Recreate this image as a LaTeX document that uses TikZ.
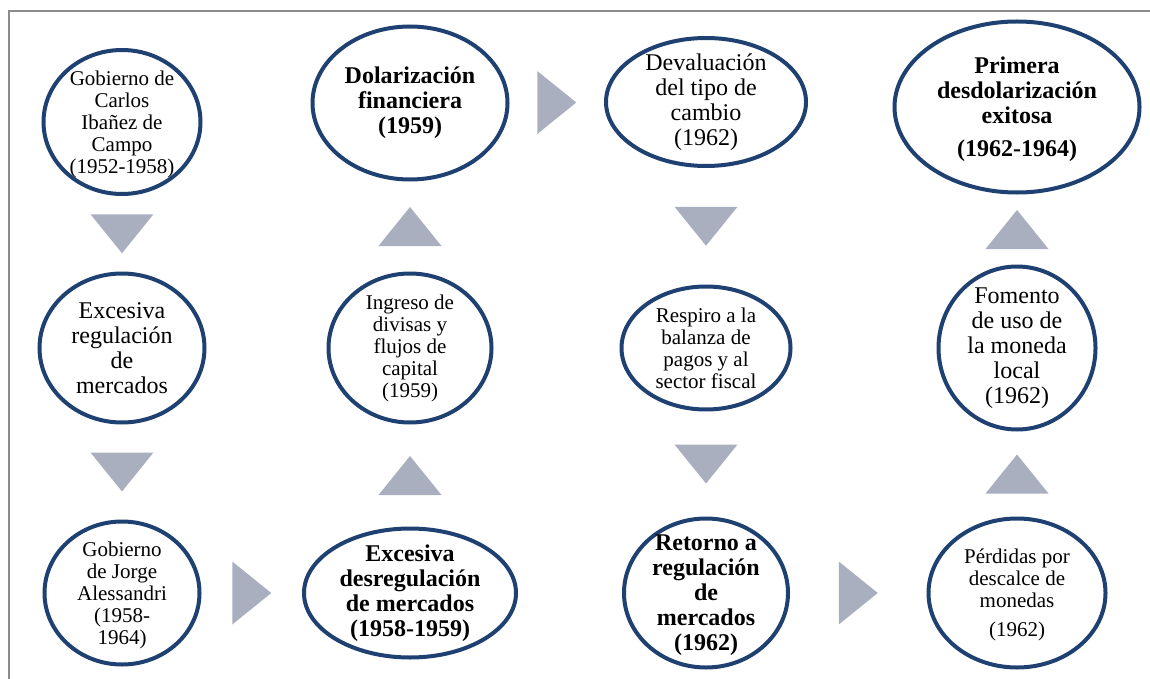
\documentclass[tikz,border=0pt]{standalone}
\usepackage{fontspec}
\setmainfont{Liberation Serif}
\usetikzlibrary{shapes.geometric,calc}
\definecolor{ovalblue}{RGB}{31,65,114}
\definecolor{arrowgray}{RGB}{169,175,191}
\definecolor{framegray}{RGB}{140,140,140}
\tikzset{
  oval/.style={ellipse, draw=ovalblue, line width=4pt, fill=white, inner sep=0pt},
  txt/.style={align=center, inner sep=0pt, text=black},
  small/.style={font=\fontsize{21}{22}\selectfont},
  big/.style={font=\fontsize{24}{25}\selectfont},
  bigbold/.style={font=\fontsize{24}{25}\selectfont\bfseries},
  pics/tri/.style={code={\fill[arrowgray] (-31.5pt,-19.5pt) -- (31.5pt,-19.5pt) -- (0pt,19.5pt) -- cycle;}}
}
\begin{document}
\begin{tikzpicture}[x=1pt,y=-1pt]
\useasboundingbox (0,0) rectangle (1150,679);
% frame
\draw[framegray, line width=1.5pt] (9,679) -- (9,11) -- (1150,11);

% ovals
\node[oval, minimum width=157pt, minimum height=144pt] (n1) at (122,122) {};
\node[oval, minimum width=195pt, minimum height=153pt] (n2) at (410,103) {};
\node[oval, minimum width=200pt, minimum height=128pt] (n3) at (706,102) {};
\node[oval, minimum width=245pt, minimum height=171pt] (n4) at (1017,107) {};
\node[oval, minimum width=165pt, minimum height=149pt] (n5) at (122,348) {};
\node[oval, minimum width=163pt, minimum height=149pt] (n6) at (410,348) {};
\node[oval, minimum width=169pt, minimum height=123pt] (n7) at (706,348) {};
\node[oval, minimum width=157pt, minimum height=163pt] (n8) at (1017,348) {};
\node[oval, minimum width=155pt, minimum height=143pt] (n9) at (122,593) {};
\node[oval, minimum width=212pt, minimum height=129pt] (n10) at (410,593) {};
\node[oval, minimum width=164pt, minimum height=149pt] (n11) at (706,593) {};
\node[oval, minimum width=177pt, minimum height=149pt] (n12) at (1017,593) {};

% texts
\node[txt, small] (t1) at ($(n1.center)+(0,2)$) {Gobierno de\\Carlos\\Ibañez de\\Campo\\(1952-1958)};
\node[txt, bigbold] (t2) at (n2.center) {Dolarización\\financiera\\(1959)};
\node[txt, big] (t3) at (n3.center) {Devaluación\\del tipo de\\cambio\\(1962)};
\node[txt, bigbold] (t4) at ($(n4.center)+(0,2)$) {Primera\\desdolarización\\exitosa\\[8pt](1962-1964)};
\node[txt, big] (t5) at (n5.center) {Excesiva\\regulación\\de\\mercados};
\node[txt, small] (t6) at (n6.center) {Ingreso de\\divisas y\\flujos de\\capital\\(1959)};
\node[txt, small] (t7) at (n7.center) {Respiro a la\\balanza de\\pagos y al\\sector fiscal};
\node[txt, big] (t8) at (n8.center) {Fomento\\de uso de\\la moneda\\local\\(1962)};
\node[txt, small] (t9) at ($(n9.center)+(0,2)$) {Gobierno\\de Jorge\\Alessandri\\(1958-\\1964)};
\node[txt, bigbold] (t10) at (n10.center) {Excesiva\\desregulación\\de mercados\\(1958-1959)};
\node[txt, bigbold] (t11) at ($(n11.center)+(0,2)$) {Retorno a\\regulación\\de\\mercados\\(1962)};
\node[txt, small] (t12) at ($(n12.center)+(0,2)$) {Pérdidas por\\descalce de\\monedas\\[7pt](1962)};

% arrows between ovals
\pic[rotate=180] at ($(n1.south)!0.5!(n5.north)$) {tri};
\pic[rotate=180] at ($(n5.south)!0.5!(n9.north)$) {tri};
\pic[rotate=-90] at ($(n9.east)!0.5!(n10.west)$) {tri};
\pic at ($(n10.north)!0.5!(n6.south)$) {tri};
\pic at ($(n6.north)!0.5!(n2.south)$) {tri};
\pic[rotate=-90] at ($(n2.east)!0.5!(n3.west)$) {tri};
\pic[rotate=180] at ($(n3.south)!0.5!(n7.north)$) {tri};
\pic[rotate=180] at ($(n7.south)!0.5!(n11.north)$) {tri};
\pic[rotate=-90] at ($(n11.east)!0.5!(n12.west)$) {tri};
\pic at ($(n12.north)!0.5!(n8.south)$) {tri};
\pic at ($(n8.north)!0.5!(n4.south)$) {tri};
\end{tikzpicture}
\end{document}
